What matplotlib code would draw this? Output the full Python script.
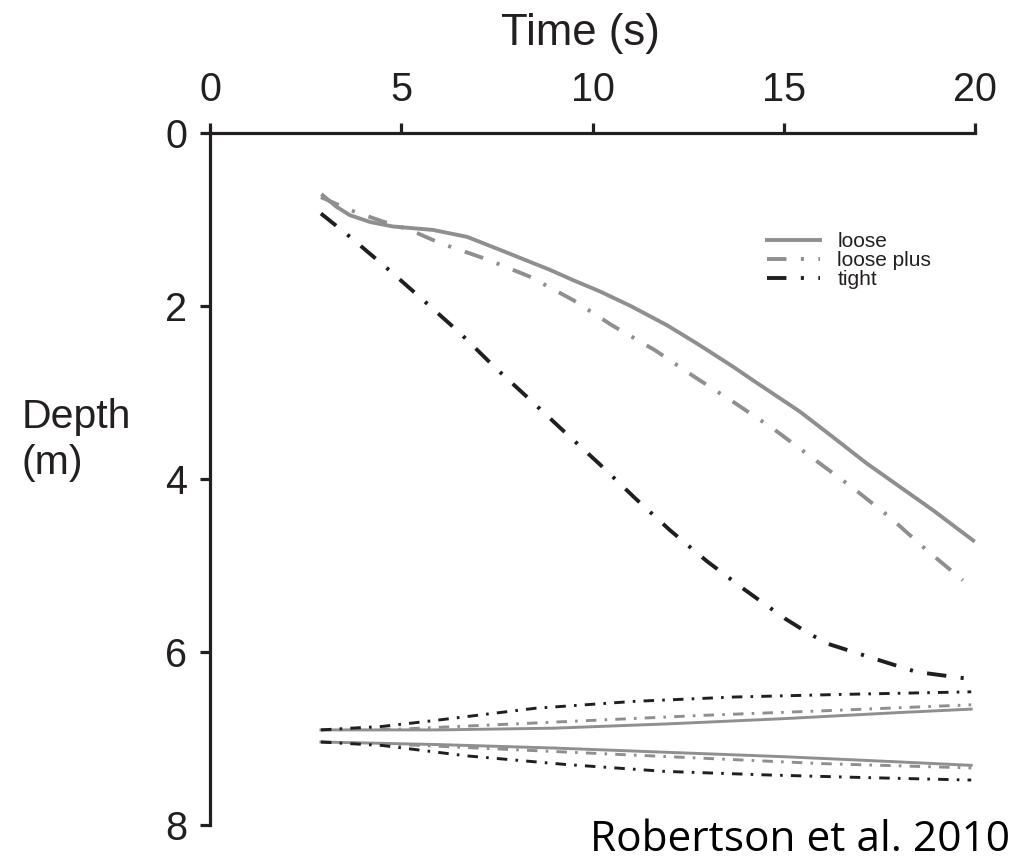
import matplotlib
matplotlib.use("Agg")
import matplotlib.pyplot as plt

plt.rcParams['font.family'] = ['Liberation Sans', 'DejaVu Sans']

# ---- data ----
t_loose = [2.95, 3.3, 3.66, 4.2, 4.78, 5.83, 6.72, 7.58, 8.88, 9.49, 10.19, 11.0, 11.94,
           12.72, 13.67, 14.2, 15.42, 16.3, 17.17, 18.9, 19.95]
d_loose = [0.72, 0.85, 0.95, 1.03, 1.08, 1.12, 1.20, 1.35, 1.58, 1.70, 1.83, 2.00, 2.22,
           2.43, 2.70, 2.86, 3.22, 3.52, 3.82, 4.36, 4.71]

t_lplus = [2.9, 3.6, 4.5, 5.23, 6.0, 7.24, 8.36, 9.49, 10.5, 11.63, 12.67, 13.72, 14.76,
           15.76, 16.8, 17.77, 18.73, 19.68]
d_lplus = [0.74, 0.88, 1.02, 1.12, 1.27, 1.46, 1.66, 1.93, 2.22, 2.51, 2.82, 3.12, 3.43,
           3.76, 4.10, 4.44, 4.82, 5.17]

t_tight = [2.9, 3.66, 4.62, 5.57, 6.53, 7.45, 8.36, 9.28, 10.19, 11.11, 12.02, 12.99, 13.98,
           15.02, 15.6, 16.12, 17.32, 18.47, 19.67, 20.0]
d_tight = [0.93, 1.20, 1.56, 1.93, 2.31, 2.71, 3.08, 3.46, 3.83, 4.22, 4.59, 4.95, 5.28,
           5.61, 5.77, 5.90, 6.07, 6.23, 6.30, 6.31]

# lower bundles (upper and lower boundaries)
t_up_loose = [2.9, 6.0, 9.0, 12.0, 15.0, 18.0, 19.9]
d_up_loose = [6.90, 6.90, 6.88, 6.83, 6.77, 6.70, 6.66]
t_up_lplus = [2.9, 5.0, 7.0, 10.0, 13.0, 16.0, 19.9]
d_up_lplus = [6.90, 6.89, 6.85, 6.79, 6.73, 6.68, 6.61]
t_up_tight = [2.9, 4.5, 5.9, 8.5, 11.1, 13.7, 16.5, 19.9]
d_up_tight = [6.90, 6.86, 6.79, 6.65, 6.57, 6.52, 6.49, 6.46]

t_lo_loose = [2.9, 6.0, 9.0, 12.0, 15.0, 18.0, 19.9]
d_lo_loose = [7.04, 7.07, 7.11, 7.16, 7.21, 7.27, 7.31]
t_lo_lplus = [2.9, 5.0, 7.0, 10.0, 13.0, 16.0, 19.9]
d_lo_lplus = [7.04, 7.07, 7.11, 7.17, 7.23, 7.29, 7.34]
t_lo_tight = [2.9, 4.5, 6.7, 9.3, 11.9, 14.5, 17.0, 19.9]
d_lo_tight = [7.04, 7.08, 7.20, 7.30, 7.38, 7.42, 7.45, 7.48]

x_ticks = [0, 5, 10, 15, 20]
y_ticks = [0, 2, 4, 6, 8]
labels = ['loose', 'loose plus', 'tight']

GRAY = '#8f8f8f'
BLACK = '#1f1f1f'
AX = '#231f20'
dashdot = (0, (5.0, 3.7, 0.8, 3.7))
dashdot2 = (0, (3.6, 2.8, 0.9, 2.8))

fig = plt.figure(figsize=(10.21, 8.68), dpi=100)
ax = fig.add_axes([0.2057, 0.0495, 0.7493, 0.7972])

lw = 2.8
ax.plot(t_loose, d_loose, color=GRAY, lw=lw, ls='-', label=labels[0], clip_on=False)
ax.plot(t_lplus, d_lplus, color=GRAY, lw=lw, ls=dashdot, label=labels[1], clip_on=False)
ax.plot(t_tight, d_tight, color=BLACK, lw=lw, ls=dashdot, label=labels[2], clip_on=False)

lw2 = 2.1
ax.plot(t_up_loose, d_up_loose, color=GRAY, lw=lw2, ls='-', clip_on=False)
ax.plot(t_up_lplus, d_up_lplus, color=GRAY, lw=lw2, ls=dashdot2, clip_on=False)
ax.plot(t_up_tight, d_up_tight, color=BLACK, lw=lw2, ls=dashdot2, clip_on=False)
ax.plot(t_lo_loose, d_lo_loose, color=GRAY, lw=lw2, ls='-', clip_on=False)
ax.plot(t_lo_lplus, d_lo_lplus, color=GRAY, lw=lw2, ls=dashdot2, clip_on=False)
ax.plot(t_lo_tight, d_lo_tight, color=BLACK, lw=lw2, ls=dashdot2, clip_on=False)

ax.set_xlim(0, 20)
ax.set_ylim(8, 0)
ax.xaxis.tick_top()
ax.set_xticks(x_ticks)
ax.set_yticks(y_ticks)
ax.set_xticklabels([str(v) for v in x_ticks])
ax.set_yticklabels([str(v) for v in y_ticks])
for s in ['right', 'bottom']:
    ax.spines[s].set_visible(False)
for s in ['left', 'top']:
    ax.spines[s].set_linewidth(2.3)
    ax.spines[s].set_color(AX)
ax.tick_params(axis='x', direction='out', length=7.5, width=2.3, color=AX,
               labelsize=28.5, pad=10, labelcolor=AX)
ax.tick_params(axis='y', direction='out', length=7.5, width=2.3, color=AX,
               labelsize=28.5, pad=9, labelcolor=AX)

fig.text(580/1021, 1 - 33/868, 'Time (s)', ha='center', va='center', fontsize=31.5, color=AX)
fig.text(22/1021, 1 - 440/868, 'Depth\n(m)', ha='left', va='center', fontsize=29.5,
         color=AX, linespacing=1.3)
fig.text(1010/1021, 1 - 840/868, 'Robertson et al. 2010', ha='right', va='center',
         fontsize=30.5, color='black', family=['Open Sans', 'DejaVu Sans'])

leg = ax.legend(loc='upper left', bbox_to_anchor=(757/1021, 1 - 222/868),
                bbox_transform=fig.transFigure, frameon=False, fontsize=15,
                handlelength=2.5, handletextpad=0.85, labelspacing=0.0,
                borderpad=0)
for txt in leg.get_texts():
    txt.set_color(AX)

fig.savefig('out.png', dpi=100)
